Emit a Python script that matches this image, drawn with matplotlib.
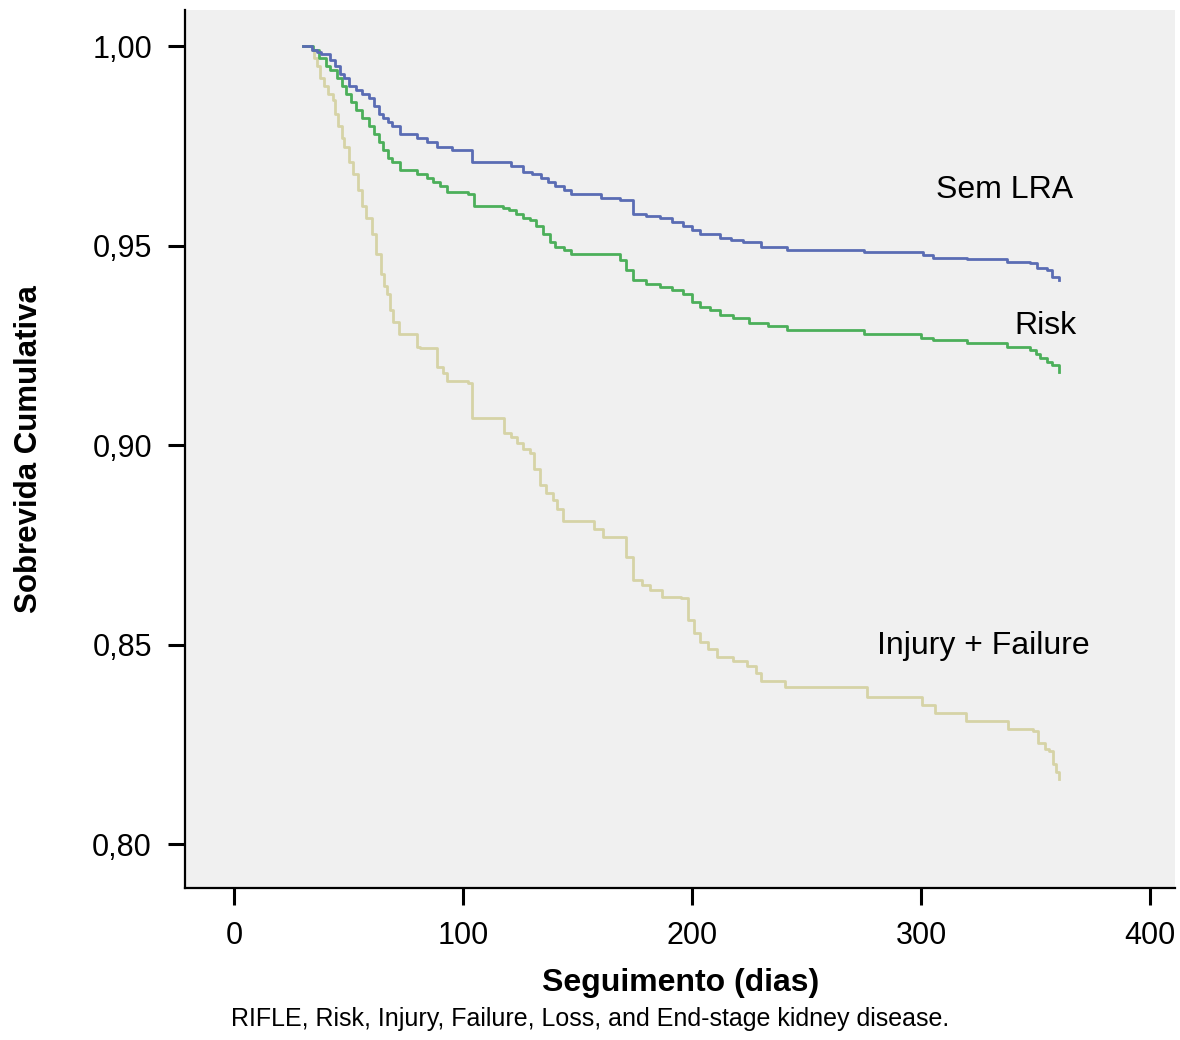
import matplotlib
matplotlib.use("Agg")
import matplotlib.pyplot as plt
from matplotlib.ticker import FuncFormatter

plt.rcParams["font.family"] = ["Liberation Sans", "DejaVu Sans"]

# Kaplan-Meier step points (day, cumulative survival)
sem_lra_days = [30, 34, 36, 38, 42, 44, 46, 48, 50, 53, 56, 59, 61, 63, 65, 67, 69, 72.5,
                80, 84, 88.6, 95, 102, 104, 116, 121, 126, 130, 134, 137, 140, 144, 147,
                160, 168.6, 174, 180, 186, 191, 196, 200, 203.5, 212, 217, 222, 230,
                241.5, 275, 301, 305, 320, 337.5, 347.6, 350.7, 355, 357, 360]
sem_lra_surv = [1.000, 0.999, 0.9985, 0.998, 0.9965, 0.995, 0.993, 0.992, 0.990, 0.989,
                0.988, 0.987, 0.985, 0.983, 0.982, 0.981, 0.980, 0.978, 0.977, 0.976,
                0.9747, 0.974, 0.974, 0.971, 0.971, 0.970, 0.9685, 0.968, 0.967, 0.966,
                0.965, 0.964, 0.963, 0.962, 0.9615, 0.958, 0.9575, 0.957, 0.956, 0.955,
                0.954, 0.953, 0.952, 0.9515, 0.951, 0.9497, 0.949, 0.9485, 0.9477, 0.947,
                0.9467, 0.946, 0.9457, 0.9444, 0.944, 0.9422, 0.9414]

risk_days = [30, 34.5, 37, 40, 42, 45, 47, 49, 51, 53, 56, 59, 61, 63, 65, 67, 69, 72.5,
             80, 84, 87, 90, 93, 102, 104.5, 117.5, 120, 123, 126, 129, 132, 135, 138,
             140, 144, 147, 157, 168.6, 171, 174, 180, 186, 191, 196, 200, 203.5, 208,
             212, 218, 225, 233, 241.5, 275, 300, 305, 320, 337.5, 347.6, 350, 352,
             355, 357, 360]
risk_surv = [1.000, 0.999, 0.997, 0.995, 0.994, 0.992, 0.990, 0.988, 0.986, 0.984, 0.982,
             0.980, 0.978, 0.976, 0.974, 0.972, 0.971, 0.969, 0.968, 0.967, 0.966, 0.965,
             0.9635, 0.963, 0.960, 0.9595, 0.959, 0.958, 0.957, 0.9565, 0.955, 0.953,
             0.951, 0.9497, 0.949, 0.948, 0.948, 0.9464, 0.944, 0.9414, 0.9405, 0.9397,
             0.939, 0.938, 0.936, 0.9347, 0.934, 0.9327, 0.932, 0.9307, 0.930, 0.929,
             0.928, 0.927, 0.9264, 0.9257, 0.9247, 0.924, 0.923, 0.922, 0.921, 0.920,
             0.9184]

injury_days = [30, 34, 35, 36, 37.5, 39, 41, 43, 44, 45.5, 47, 48, 50, 52, 54, 56, 57.5,
               60, 62, 64, 65.5, 66.8, 68, 69.5, 71.8, 80, 81, 87, 88.6, 91, 93, 102, 104,
               116, 118, 121, 123.5, 126, 129, 131, 133.6, 136, 139, 141, 143.7, 155.5,
               157, 161, 168.6, 171, 174, 178, 181.7, 187, 195, 198, 201, 203.5, 207, 211,
               218, 224, 228, 230, 240.6, 276.4, 300.4, 306, 319.6, 338, 349, 351, 354,
               356, 357.6, 359, 360]
injury_surv = [1.000, 0.999, 0.997, 0.995, 0.992, 0.990, 0.988, 0.9865, 0.983, 0.980,
               0.977, 0.9747, 0.971, 0.968, 0.964, 0.960, 0.957, 0.953, 0.948, 0.943,
               0.940, 0.938, 0.934, 0.931, 0.928, 0.9247, 0.9244, 0.9244, 0.9197, 0.918,
               0.916, 0.9156, 0.9069, 0.9069, 0.903, 0.902, 0.9006, 0.899, 0.898, 0.894,
               0.890, 0.888, 0.8864, 0.884, 0.881, 0.881, 0.879, 0.877, 0.877, 0.872,
               0.8663, 0.865, 0.8638, 0.862, 0.8618, 0.8563, 0.853, 0.8506, 0.849, 0.847,
               0.846, 0.8446, 0.843, 0.8408, 0.8393, 0.837, 0.8348, 0.833, 0.8308,
               0.8288, 0.8283, 0.8255, 0.824, 0.8233, 0.820, 0.818, 0.8163]

curve_labels = ["Sem LRA", "Risk", "Injury + Failure"]
label_pos = [(366.4, 0.964), (368.0, 0.930), (373.8, 0.8496)]
x_ticks = [0, 100, 200, 300, 400]
y_ticks = [0.80, 0.85, 0.90, 0.95, 1.00]

fig = plt.figure(figsize=(11.8, 10.4), dpi=100)
ax = fig.add_axes([0.157, 0.146, 0.839, 0.844])
ax.set_facecolor("#f0f0f0")

ax.plot(injury_days, injury_surv, drawstyle="steps-post", color="#d6d3a6", lw=2)
ax.plot(risk_days, risk_surv, drawstyle="steps-post", color="#4caf5a", lw=2)
ax.plot(sem_lra_days, sem_lra_surv, drawstyle="steps-post", color="#5a6cb4", lw=2)

for name, (lx, ly) in zip(curve_labels, label_pos):
    ax.text(lx, ly, name, fontsize=23, ha="right", va="center")

ax.set_xlim(-21.4, 411)
ax.set_ylim(0.789, 1.009)
ax.set_xticks(x_ticks)
ax.set_yticks(y_ticks)
ax.yaxis.set_major_formatter(FuncFormatter(lambda v, p: f"{v:.2f}".replace(".", ",")))
ax.tick_params(axis="both", length=12, width=2.2, labelsize=22, pad=12)

for side in ["top", "right"]:
    ax.spines[side].set_visible(False)
for side in ["left", "bottom"]:
    ax.spines[side].set_linewidth(1.6)

ax.set_xlabel("Seguimento (dias)", fontsize=23, fontweight="bold", labelpad=12)
ax.set_ylabel("Sobrevida Cumulativa", fontsize=22.5, fontweight="bold", labelpad=35)

fig.text(0.5, 0.02, "RIFLE, Risk, Injury, Failure, Loss, and End-stage kidney disease.",
         ha="center", va="center", fontsize=18)

fig.savefig("out.png", dpi=100)
